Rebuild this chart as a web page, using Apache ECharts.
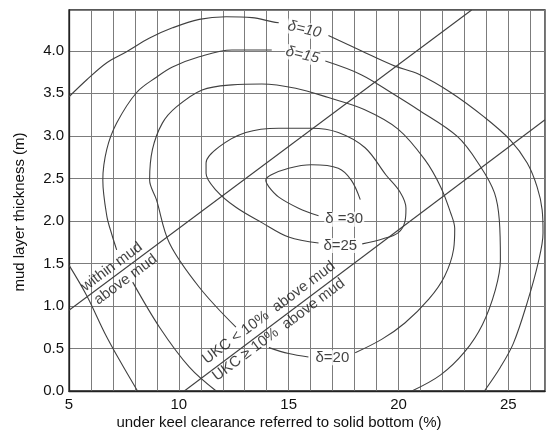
<!DOCTYPE html>
<html>
<head>
<meta charset="utf-8">
<script src="https://cdn.jsdelivr.net/npm/echarts@6/dist/echarts.min.js"></script>
<style>
html,body{margin:0;padding:0;background:#fff;}
#c{width:548px;height:432px;}
</style>
</head>
<body>
<div id="c"></div>
<script>
// ---- axis ticks ----
const xTickLabels = [5, 10, 15, 20, 25];
const yTickLabels = [0.0, 0.5, 1.0, 1.5, 2.0, 2.5, 3.0, 3.5, 4.0];

// ---- contour curves (x = UKC %, y = mud layer thickness m) ----
const delta10Upper = [[5,3.46],[5.81,3.66],[6.72,3.86],[7.62,3.99],[8.67,4.15],[9.71,4.27],[10.93,4.37],[12.15,4.40],[13.33,4.39],[14.28,4.34],[14.55,4.33]];
const delta10Right = [[16.81,4.18],[18.30,4.00],[19.84,3.82],[20.88,3.73],[22.38,3.51],[23.91,3.22],[25.09,2.95],[25.86,2.68],[26.31,2.40],[26.54,2.13],[26.58,1.86],[26.36,1.51],[25.86,1.04],[25.23,0.56],[24.64,0.28],[23.91,0]];
const delta10Lower = [[5,1.48],[5.81,1.12],[6.63,0.68],[7.35,0.34],[8.12,0]];

const delta15Lower = [[7.90,1.28],[9.12,0.75],[10.48,0.28],[11.70,0]];
const delta15Left = [[7.17,1.66],[6.95,1.84],[6.72,2.06],[6.54,2.48],[6.72,2.84],[7.17,3.15],[8.08,3.51],[8.98,3.69],[9.71,3.81],[10.93,3.93],[12.42,4.01],[14.23,4.01]];
const delta15Right = [[16.67,3.88],[18.30,3.72],[19.84,3.48],[20.88,3.31],[22.69,2.99],[23.73,2.64],[24.37,2.33],[24.59,2.01],[24.64,1.54],[24.41,1.19],[23.82,0.78],[23.01,0.46],[21.92,0.19],[20.61,0]];

const delta20Main = [[12.60,0.75],[10.93,1.22],[9.57,1.74],[8.98,2.25],[8.67,2.48],[8.80,2.84],[9.25,3.15],[9.89,3.34],[11.06,3.54],[12.42,3.60],[13.78,3.61],[15.32,3.56],[16.81,3.45],[18.44,3.31],[19.98,3.08],[21.20,2.72],[21.92,2.40],[22.38,2.09],[22.56,1.91],[22.51,1.67],[22.10,1.35],[21.38,1.08],[20.29,0.80],[19.25,0.61],[18.03,0.45]];
const delta20Bottom = [[14.10,0.51],[15.00,0.44],[15.90,0.40]];

const delta25 = [[18.35,1.73],[19.30,1.79],[19.98,1.86],[20.29,1.99],[20.34,2.15],[20.07,2.34],[19.43,2.54],[18.48,2.86],[17.26,3.04],[16.04,3.09],[14.55,3.09],[13.05,3.04],[11.83,2.87],[11.24,2.68],[11.24,2.56],[11.70,2.36],[12.60,2.16],[13.78,1.98],[15.00,1.81],[16.36,1.74]];
const delta30 = [[18.26,2.25],[17.85,2.48],[17.26,2.62],[16.04,2.66],[15.00,2.62],[14.19,2.54],[13.96,2.48],[14.10,2.40],[14.55,2.28],[15.45,2.15],[16.36,2.06]];

// ---- boundary lines ----
const mudLine = [[5,0.95],[23.33,4.48]];
const ukcLine = [[10.25,0],[26.67,3.19]];

// ---- annotation texts and their anchor points (data coords) ----
const curveLabelTexts = ['δ=10', 'δ=15', 'δ=20', 'δ=25', 'δ =30'];
const curveLabelAnchors = [[15.72,4.25],[15.63,3.95],[16.99,0.39],[17.35,1.71],[17.53,2.02]];
const lineLabelTexts = ['within mud', 'above mud', 'UKC < 10%  above mud', 'UKC ≥ 10%  above mud'];
const lineLabelAnchors = [[6.95,1.46],[7.58,1.31],[14.10,0.92],[14.55,0.72]];

const xName = 'under keel clearance referred to solid bottom (%)';
const yName = 'mud layer thickness (m)';

// ---- styles ----
const FONT = "'Liberation Sans', Arial, Helvetica, sans-serif";
const TEXT = '#111';
const curveColor = '#404040';
const gridColor = '#7c7c7c';
const curveRot = [-13, -13, 0, 0, 0];
const curveItalic = [true, true, false, false, false];
const lineRot = [36.5, 36.5, 36.7, 36.7];

const chart = echarts.init(document.getElementById('c'), null, {renderer: 'canvas'});

function lineSeries(data) {
  return {
    type: 'line', data: data, smooth: 0.35, symbol: 'none', silent: true,
    clip: true,
    lineStyle: {color: curveColor, width: 1.1}
  };
}
function straight(data) {
  return {
    type: 'line', data: data, smooth: false, symbol: 'none', silent: true,
    clip: true,
    lineStyle: {color: curveColor, width: 1.1}
  };
}

const curveLabelData = curveLabelTexts.map((t, i) => ({
  value: curveLabelAnchors[i],
  label: {
    show: true, formatter: t, rotate: curveRot[i], position: 'inside',
    fontStyle: curveItalic[i] ? 'italic' : 'normal',
    fontSize: 15, color: TEXT, fontFamily: FONT,
    backgroundColor: '#fff', padding: [0, 1]
  }
}));
const lineLabelData = lineLabelTexts.map((t, i) => ({
  value: lineLabelAnchors[i],
  label: {
    show: true, formatter: t, rotate: lineRot[i], position: 'inside',
    fontSize: 15, color: TEXT, fontFamily: FONT
  }
}));

const isLabelX = v => xTickLabels.some(t => Math.abs(t - v) < 1e-6);
const isLabelY = v => yTickLabels.some(t => Math.abs(t - v) < 1e-6);

chart.setOption({
  animation: false,
  backgroundColor: '#fff',
  grid: {left: 69, right: 0, top: 10, bottom: 41, show: true, borderColor: '#222', borderWidth: 1.3, backgroundColor: 'transparent'},
  xAxis: {
    type: 'value', min: 5, max: 26.67, interval: 1,
    axisLine: {show: true, lineStyle: {color: '#222', width: 1.3}},
    axisTick: {show: false},
    splitLine: {show: true, lineStyle: {color: gridColor, width: 1}},
    axisLabel: {
      margin: 6, fontSize: 15, color: TEXT, fontFamily: FONT,
      formatter: v => isLabelX(v) ? String(Math.round(v)) : ''
    }
  },
  yAxis: {
    type: 'value', min: 0, max: 4.48, interval: 0.5,
    axisLine: {show: true, lineStyle: {color: '#222', width: 1.3}},
    axisTick: {show: false},
    splitLine: {show: true, lineStyle: {color: gridColor, width: 1}},
    axisLabel: {
      margin: 5, fontSize: 15, color: TEXT, fontFamily: FONT,
      formatter: v => isLabelY(v) ? v.toFixed(1) : ''
    }
  },
  graphic: [
    {type: 'text', x: 279, y: 423, style: {text: xName, fontSize: 15, fontFamily: FONT, fill: TEXT, align: 'center', verticalAlign: 'middle'}},
    {type: 'text', x: 20, y: 212, rotation: Math.PI / 2, style: {text: yName, fontSize: 15, fontFamily: FONT, fill: TEXT, align: 'center', verticalAlign: 'middle'}}
  ],
  series: [
    lineSeries(delta10Upper), lineSeries(delta10Right), lineSeries(delta10Lower),
    lineSeries(delta15Lower), lineSeries(delta15Left), lineSeries(delta15Right),
    lineSeries(delta20Main), lineSeries(delta20Bottom),
    lineSeries(delta25), lineSeries(delta30),
    straight(mudLine), straight(ukcLine),
    {type: 'scatter', symbolSize: 0, silent: true, data: curveLabelData, z: 5},
    {type: 'scatter', symbolSize: 0, silent: true, data: lineLabelData, z: 5}
  ]
});
</script>
</body>
</html>
